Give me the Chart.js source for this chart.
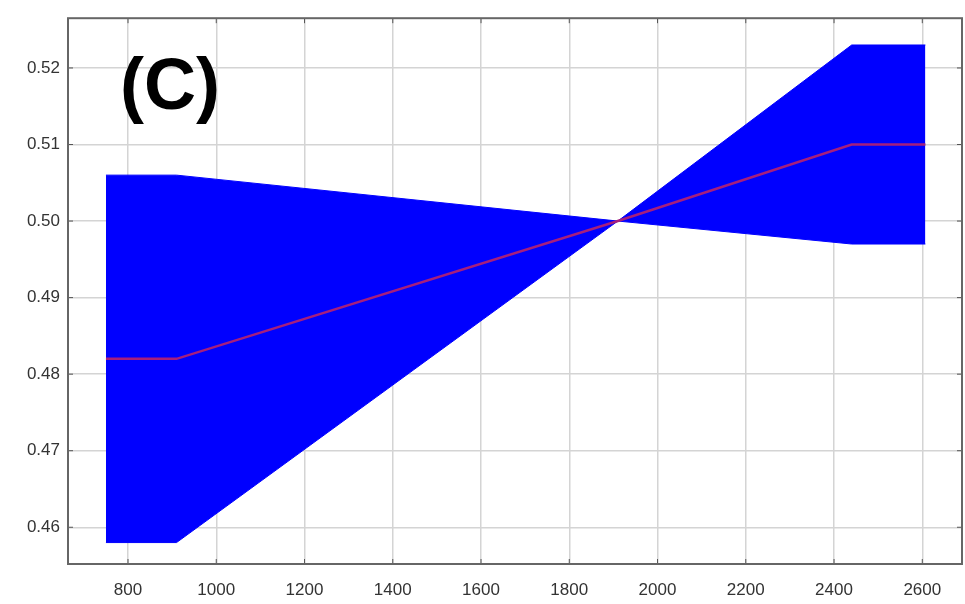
<!DOCTYPE html>
<html>
<head>
<meta charset="utf-8">
<script src="https://cdn.jsdelivr.net/npm/chart.js@4/dist/chart.umd.min.js"></script>
<style>
  html, body { margin: 0; padding: 0; background: #fff; }
  #wrap { width: 965px; height: 604px; }
</style>
</head>
<body>
<div id="wrap"><canvas id="grafico"></canvas></div>
<script>
// data
const xs      = [750, 910, 1910, 2440, 2607]
const upperA  = [0.506, 0.506, 0.500, 0.497, 0.497]
const lowerB  = [0.458, 0.458, 0.500, 0.523, 0.523]
const meanY   = [0.482, 0.482, 0.500, 0.510, 0.510]
const xTicks  = [800, 1000, 1200, 1400, 1600, 1800, 2000, 2200, 2400, 2600]
const yTicks  = [0.46, 0.47, 0.48, 0.49, 0.50, 0.51, 0.52]
const panelLabel = '(C)'

const pts = (ys) => xs.map((x, i) => ({ x: x, y: ys[i] }))

// full box + inward ticks + panel label, matlab style
const frame = {
  id: 'frame',
  afterDraw(chart) {
    const { ctx, chartArea: a, scales } = chart
    ctx.save()
    ctx.strokeStyle = '#555'
    ctx.lineWidth = 1
    xTicks.forEach(v => {
      const px = scales.x.getPixelForValue(v)
      ctx.beginPath()
      ctx.moveTo(px, a.bottom); ctx.lineTo(px, a.bottom - 5)
      ctx.moveTo(px, a.top); ctx.lineTo(px, a.top + 5)
      ctx.stroke()
    })
    yTicks.forEach(v => {
      const py = scales.y.getPixelForValue(v)
      ctx.beginPath()
      ctx.moveTo(a.left, py); ctx.lineTo(a.left + 5, py)
      ctx.moveTo(a.right, py); ctx.lineTo(a.right - 5, py)
      ctx.stroke()
    })
    ctx.strokeStyle = '#666'
    ctx.lineWidth = 2
    ctx.strokeRect(a.left, a.top, a.right - a.left, a.bottom - a.top)

    ctx.fillStyle = '#000'
    ctx.font = 'bold 72px "Liberation Sans", Arial, sans-serif'
    ctx.textAlign = 'center'
    ctx.textBaseline = 'middle'
    ctx.fillText(panelLabel, scales.x.getPixelForValue(895), scales.y.getPixelForValue(0.5172))
    ctx.restore()
  }
}

document.addEventListener('DOMContentLoaded', () => {
  const ctx = document.getElementById('grafico')
  new Chart(ctx, {
    type: 'line',
    data: {
      datasets: [
        {
          label: 'mean',
          data: pts(meanY),
          borderColor: '#a61f7c',
          borderWidth: 2.5,
          pointRadius: 0,
          fill: false,
          order: 0
        },
        {
          label: 'a',
          data: pts(upperA),
          borderColor: '#0000ff',
          borderWidth: 1,
          backgroundColor: '#0000ff',
          pointRadius: 0,
          fill: '+1',
          order: 1
        },
        {
          label: 'b',
          data: pts(lowerB),
          borderColor: '#0000ff',
          borderWidth: 1,
          pointRadius: 0,
          fill: false,
          order: 2
        }
      ]
    },
    options: {
      responsive: true,
      maintainAspectRatio: false,
      animation: false,
      layout: { padding: { top: 15, right: 3, left: 0, bottom: 0 } },
      plugins: { legend: { display: false }, tooltip: { enabled: false } },
      scales: {
        x: {
          type: 'linear',
          min: 664,
          max: 2690,
          afterBuildTicks: (s) => { s.ticks = xTicks.map(v => ({ value: v })) },
          afterFit: (s) => { s.height = 40 },
          grid: { color: '#d4d4d4', lineWidth: 1.5, drawTicks: false },
          border: { display: false },
          ticks: {
            padding: 16,
            color: '#333',
            font: { family: '"Liberation Sans", Arial, sans-serif', size: 17 },
            callback: (v) => String(v)
          }
        },
        y: {
          type: 'linear',
          min: 0.4552,
          max: 0.5265,
          afterBuildTicks: (s) => { s.ticks = yTicks.map(v => ({ value: v })) },
          afterFit: (s) => { s.width = 68 },
          grid: { color: '#d4d4d4', lineWidth: 1.5, drawTicks: false },
          border: { display: false },
          ticks: {
            padding: 8,
            color: '#333',
            font: { family: '"Liberation Sans", Arial, sans-serif', size: 17 },
            callback: (v) => Number(v).toFixed(2)
          }
        }
      }
    },
    plugins: [frame]
  })
})
</script>
</body>
</html>
